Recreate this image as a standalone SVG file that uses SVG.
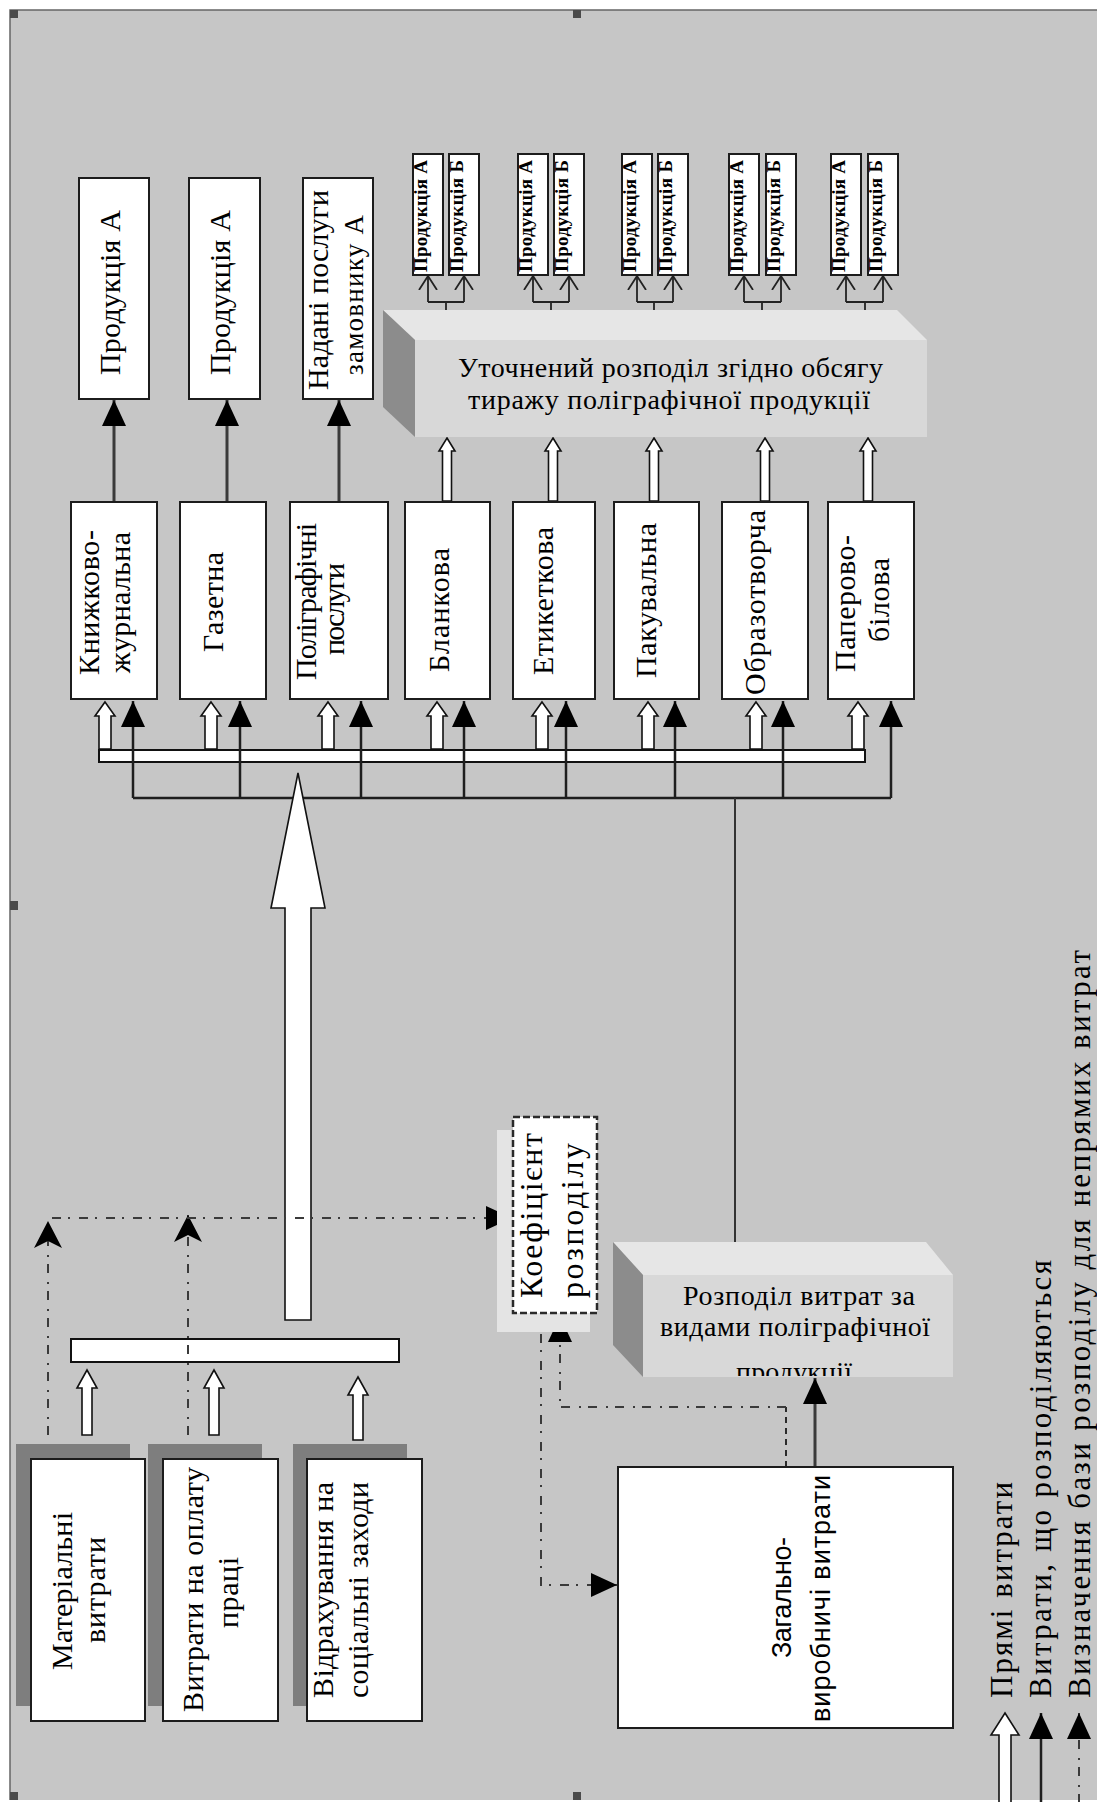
<svg xmlns="http://www.w3.org/2000/svg" width="1097" height="1802" viewBox="0 0 1097 1802">
  <style>
    .bg { fill: #c6c6c6; }
    .box { fill: #ffffff; stroke: #1c1c1c; stroke-width: 2; }
    .shadow { fill: #7e7e7e; }
    .bar { fill: #ffffff; stroke: #111; stroke-width: 2; }
    .hollow { fill: #ffffff; stroke: #111; stroke-width: 1.6; stroke-linejoin: miter; }
    .solid { fill: none; stroke: #1e1e1e; stroke-width: 2.5; }
    .solid-g { fill: none; stroke: #3a3a3a; stroke-width: 3; }
    .thin { fill: none; stroke: #333; stroke-width: 2; }
    .dashdot { fill: none; stroke: #3a3a3a; stroke-width: 2; stroke-dasharray: 9 7 2 9; }
    .dashed { fill: none; stroke: #2a2a2a; stroke-width: 2; stroke-dasharray: 6 5; }
    .fork { fill: none; stroke: #222; stroke-width: 1.8; }
    .lbl { font-family: "Liberation Serif", "Times New Roman", serif; font-size: 30px; fill: #000; }
    .lbl-s { font-family: "Liberation Serif", "Times New Roman", serif; font-size: 27px; fill: #000; }
    .lbl-k { font-family: "Liberation Serif", "Times New Roman", serif; font-size: 32px; fill: #000; }
    .tiny { font-family: "Liberation Serif", "Times New Roman", serif; font-size: 19px; font-weight: bold; fill: #000; }
    .face { font-family: "Liberation Serif", "Times New Roman", serif; font-size: 28px; fill: #000; }
    .sans { font-family: "Liberation Sans", Arial, sans-serif; font-size: 27px; fill: #000; }
    .legend { font-family: "Liberation Serif", "Times New Roman", serif; font-size: 31px; fill: #000; }
    .handle { fill: #4a4a4a; }
    .top3d { fill: #e6e6e6; }
    .front3d { fill: #d8d8d8; }
    .side3d { fill: #8c8c8c; }
  </style>
  <defs>
    <marker id="tri" viewBox="0 0 26 24" refX="26" refY="12" markerWidth="26" markerHeight="24" markerUnits="userSpaceOnUse" orient="auto">
      <path d="M0,0 L26,12 L0,24 Z" fill="#000"/>
    </marker>
    <marker id="stealth" viewBox="0 0 27 28" refX="27" refY="14" markerWidth="27" markerHeight="28" markerUnits="userSpaceOnUse" orient="auto">
      <path d="M0,0 L27,14 L0,28 L7,14 Z" fill="#000"/>
    </marker>
    <marker id="open" viewBox="0 0 15 20" refX="14" refY="10" markerWidth="15" markerHeight="20" markerUnits="userSpaceOnUse" orient="auto">
      <path d="M0,1 L14,10 L0,19" fill="none" stroke="#222" stroke-width="1.8"/>
    </marker>
    <clipPath id="clip-lower3d">
      <rect x="643" y="1275" width="310" height="101"/>
    </clipPath>
    <clipPath id="clip-p1"><rect x="414" y="155" width="28" height="119"/></clipPath>
    <clipPath id="clip-p2"><rect x="450" y="155" width="28" height="119"/></clipPath>
    <clipPath id="clip-p3"><rect x="519" y="155" width="28" height="119"/></clipPath>
    <clipPath id="clip-p4"><rect x="555" y="155" width="28" height="119"/></clipPath>
    <clipPath id="clip-p5"><rect x="623" y="155" width="28" height="119"/></clipPath>
    <clipPath id="clip-p6"><rect x="659" y="155" width="28" height="119"/></clipPath>
    <clipPath id="clip-p7"><rect x="730" y="155" width="28" height="119"/></clipPath>
    <clipPath id="clip-p8"><rect x="767" y="155" width="28" height="119"/></clipPath>
    <clipPath id="clip-p9"><rect x="832" y="155" width="28" height="119"/></clipPath>
    <clipPath id="clip-p10"><rect x="869" y="155" width="28" height="119"/></clipPath>
  </defs>

  <!-- canvas frame -->
  <rect x="0" y="0" width="1097" height="1802" fill="#ffffff"/>
  <rect class="bg" x="10" y="10" width="1087" height="1790"/>
  <path d="M10,1800 V10 H1097" fill="none" stroke="#666" stroke-width="1.5"/>
  <g id="handles">
    <rect class="handle" x="10" y="10" width="8" height="8"/>
    <rect class="handle" x="573" y="10" width="8" height="8"/>
    <rect class="handle" x="10" y="901" width="8" height="9"/>
    <rect class="handle" x="10" y="1792" width="8" height="8"/>
    <rect class="handle" x="573" y="1792" width="8" height="8"/>
  </g>

  <!-- distribution bar under the product-type blocks -->
  <rect id="bar-types" class="bar" x="99" y="750" width="766" height="12"/>
  <!-- collecting bar above the direct-cost inputs -->
  <rect id="bar-inputs" class="bar" x="71" y="1339" width="328" height="23"/>

  <!-- connectors -->
  <g id="connectors">
    <!-- bus from the overhead allocation -->
    <path class="solid" d="M133,798 H891"/>
    <path class="thin" d="M735,798 V1254"/>
    <!-- bus to each product type -->
    <path class="solid" d="M133,798 V701" marker-end="url(#tri)"/>
    <path class="solid" d="M240,798 V701" marker-end="url(#tri)"/>
    <path class="solid" d="M361,798 V701" marker-end="url(#tri)"/>
    <path class="solid" d="M464,798 V701" marker-end="url(#tri)"/>
    <path class="solid" d="M566,798 V701" marker-end="url(#tri)"/>
    <path class="solid" d="M675,798 V701" marker-end="url(#tri)"/>
    <path class="solid" d="M783,798 V701" marker-end="url(#tri)"/>
    <path class="solid" d="M891,798 V701" marker-end="url(#tri)"/>

    <!-- direct costs from the bar to each product type -->
    <polygon class="hollow" points="105,702 115,716 111,716 111,749 99,749 99,716 95,716"/>
    <polygon class="hollow" points="211,702 221,716 217,716 217,749 205,749 205,716 201,716"/>
    <polygon class="hollow" points="328,702 338,716 334,716 334,749 322,749 322,716 318,716"/>
    <polygon class="hollow" points="437,702 447,716 443,716 443,749 431,749 431,716 427,716"/>
    <polygon class="hollow" points="542,702 552,716 548,716 548,749 536,749 536,716 532,716"/>
    <polygon class="hollow" points="648,702 658,716 654,716 654,749 642,749 642,716 638,716"/>
    <polygon class="hollow" points="756,702 766,716 762,716 762,749 750,749 750,716 746,716"/>
    <polygon class="hollow" points="858,702 868,716 864,716 864,749 852,749 852,716 848,716"/>

    <!-- product types to their outputs -->
    <path class="solid-g" d="M114,502 V400" marker-end="url(#tri)"/>
    <path class="solid-g" d="M227,502 V400" marker-end="url(#tri)"/>
    <path class="solid-g" d="M339,502 V400" marker-end="url(#tri)"/>

    <!-- product types to the refined allocation -->
    <polygon class="hollow" points="447,438 455,451 451.5,451 451.5,501 442.5,501 442.5,451 439,451"/>
    <polygon class="hollow" points="553,438 561,451 557.5,451 557.5,501 548.5,501 548.5,451 545,451"/>
    <polygon class="hollow" points="654,438 662,451 658.5,451 658.5,501 649.5,501 649.5,451 646,451"/>
    <polygon class="hollow" points="765,438 773,451 769.5,451 769.5,501 760.5,501 760.5,451 757,451"/>
    <polygon class="hollow" points="868,438 876,451 872.5,451 872.5,501 863.5,501 863.5,451 860,451"/>

    <!-- forks to products A / B -->
    <path class="fork" d="M446,322 V302 M428,302 H464" />
    <path class="fork" d="M428,302 V276" marker-end="url(#open)"/>
    <path class="fork" d="M464,302 V276" marker-end="url(#open)"/>
    <path class="fork" d="M551,322 V302 M533,302 H569" />
    <path class="fork" d="M533,302 V276" marker-end="url(#open)"/>
    <path class="fork" d="M569,302 V276" marker-end="url(#open)"/>
    <path class="fork" d="M654,322 V302 M637,302 H673" />
    <path class="fork" d="M637,302 V276" marker-end="url(#open)"/>
    <path class="fork" d="M673,302 V276" marker-end="url(#open)"/>
    <path class="fork" d="M762,322 V302 M744,302 H781" />
    <path class="fork" d="M744,302 V276" marker-end="url(#open)"/>
    <path class="fork" d="M781,302 V276" marker-end="url(#open)"/>
    <path class="fork" d="M865,322 V302 M846,302 H883" />
    <path class="fork" d="M846,302 V276" marker-end="url(#open)"/>
    <path class="fork" d="M883,302 V276" marker-end="url(#open)"/>

    <!-- direct cost inputs to the collecting bar -->
    <polygon class="hollow" points="87,1370 97,1388 92,1388 92,1435 82,1435 82,1388 77,1388"/>
    <polygon class="hollow" points="214,1370 224,1388 219,1388 219,1435 209,1435 209,1388 204,1388"/>
    <polygon class="hollow" points="358,1377 368,1395 363,1395 363,1440 353,1440 353,1395 348,1395"/>

    <!-- total direct costs -->
    <polygon class="hollow" points="298,773 325,908 311,908 311,1320 285,1320 285,908 271,908"/>

    <!-- allocation base lines -->
    <path class="dashdot" d="M48,1435 V1221" marker-end="url(#stealth)"/>
    <path class="dashdot" d="M188,1435 V1215" marker-end="url(#stealth)"/>
    <path class="dashdot" d="M52,1218 H512" marker-end="url(#tri)"/>
    <path class="dashdot" d="M541,1334 V1585 H617" marker-end="url(#tri)"/>
    <path class="dashed" d="M786,1467 V1407"/>
    <path class="dashdot" d="M786,1407 H560 V1316" marker-end="url(#tri)"/>

    <!-- overhead to the allocation block -->
    <path class="solid-g" d="M815,1467 V1378" marker-end="url(#tri)"/>

    <!-- legend -->
    <polygon class="hollow" points="1005,1713 1019,1735 1011,1735 1011,1803 999,1803 999,1735 991,1735"/>
    <path class="solid" d="M1041,1803 V1713" marker-end="url(#tri)"/>
    <path class="dashdot" d="M1079,1803 V1713" marker-end="url(#tri)"/>
  </g>

  <!-- outputs -->
  <g id="out-books">
    <rect class="box" x="79" y="178" width="70" height="221"/>
    <text class="lbl" transform="translate(120,375) rotate(-90)" textLength="165" lengthAdjust="spacing">Продукція А</text>
  </g>
  <g id="out-news">
    <rect class="box" x="189" y="178" width="71" height="221"/>
    <text class="lbl" transform="translate(230,375) rotate(-90)" textLength="165" lengthAdjust="spacing">Продукція А</text>
  </g>
  <g id="out-services">
    <rect class="box" x="303" y="178" width="70" height="221"/>
    <text class="lbl" transform="translate(328,390) rotate(-90)" textLength="200" lengthAdjust="spacing">Надані послуги</text>
    <text class="lbl-s" transform="translate(363,375) rotate(-90)" textLength="160" lengthAdjust="spacing">замовнику А</text>
  </g>

  <!-- products A / B per type -->
  <g id="ab-blank">
    <rect class="box" x="413" y="154" width="30" height="121"/>
    <rect class="box" x="449" y="154" width="30" height="121"/>
    <g clip-path="url(#clip-p1)"><text class="tiny" transform="translate(427,272) rotate(-90)" textLength="112" lengthAdjust="spacing">Продукція А</text></g>
    <g clip-path="url(#clip-p2)"><text class="tiny" transform="translate(463,272) rotate(-90)" textLength="112" lengthAdjust="spacing">Продукція Б</text></g>
  </g>
  <g id="ab-label">
    <rect class="box" x="518" y="154" width="30" height="121"/>
    <rect class="box" x="554" y="154" width="30" height="121"/>
    <g clip-path="url(#clip-p3)"><text class="tiny" transform="translate(532,272) rotate(-90)" textLength="112" lengthAdjust="spacing">Продукція А</text></g>
    <g clip-path="url(#clip-p4)"><text class="tiny" transform="translate(568,272) rotate(-90)" textLength="112" lengthAdjust="spacing">Продукція Б</text></g>
  </g>
  <g id="ab-pack">
    <rect class="box" x="622" y="154" width="30" height="121"/>
    <rect class="box" x="658" y="154" width="30" height="121"/>
    <g clip-path="url(#clip-p5)"><text class="tiny" transform="translate(636,272) rotate(-90)" textLength="112" lengthAdjust="spacing">Продукція А</text></g>
    <g clip-path="url(#clip-p6)"><text class="tiny" transform="translate(672,272) rotate(-90)" textLength="112" lengthAdjust="spacing">Продукція Б</text></g>
  </g>
  <g id="ab-art">
    <rect class="box" x="729" y="154" width="30" height="121"/>
    <rect class="box" x="766" y="154" width="30" height="121"/>
    <g clip-path="url(#clip-p7)"><text class="tiny" transform="translate(743,272) rotate(-90)" textLength="112" lengthAdjust="spacing">Продукція А</text></g>
    <g clip-path="url(#clip-p8)"><text class="tiny" transform="translate(780,272) rotate(-90)" textLength="112" lengthAdjust="spacing">Продукція Б</text></g>
  </g>
  <g id="ab-paper">
    <rect class="box" x="831" y="154" width="30" height="121"/>
    <rect class="box" x="868" y="154" width="30" height="121"/>
    <g clip-path="url(#clip-p9)"><text class="tiny" transform="translate(845,272) rotate(-90)" textLength="112" lengthAdjust="spacing">Продукція А</text></g>
    <g clip-path="url(#clip-p10)"><text class="tiny" transform="translate(882,272) rotate(-90)" textLength="112" lengthAdjust="spacing">Продукція Б</text></g>
  </g>

  <!-- refined allocation block -->
  <g id="refined">
    <polygon class="top3d" points="383,310 897,310 927,340 415,340"/>
    <polygon class="side3d" points="383,310 415,340 415,437 383,407"/>
    <rect class="front3d" x="415" y="340" width="512" height="97"/>
    <text class="face" x="458" y="377" textLength="425" lengthAdjust="spacing">Уточнений розподіл згідно обсягу</text>
    <text class="face" x="468" y="409" textLength="402" lengthAdjust="spacing">тиражу поліграфічної  продукції</text>
  </g>

  <!-- product types -->
  <g id="type-books">
    <rect class="box" x="71" y="502" width="86" height="197"/>
    <text class="lbl" transform="translate(99,675) rotate(-90)" textLength="145" lengthAdjust="spacing">Книжково-</text>
    <text class="lbl" transform="translate(130,673) rotate(-90)" textLength="141" lengthAdjust="spacing">журнальна</text>
  </g>
  <g id="type-news">
    <rect class="box" x="180" y="502" width="86" height="197"/>
    <text class="lbl" transform="translate(223,652) rotate(-90)" textLength="100" lengthAdjust="spacing">Газетна</text>
  </g>
  <g id="type-services">
    <rect class="box" x="290" y="502" width="98" height="197"/>
    <text class="lbl" transform="translate(316,680) rotate(-90)" textLength="157" lengthAdjust="spacing">Поліграфічні</text>
    <text class="lbl" transform="translate(344,655) rotate(-90)" textLength="92" lengthAdjust="spacing">послуги</text>
  </g>
  <g id="type-blank">
    <rect class="box" x="405" y="502" width="85" height="197"/>
    <text class="lbl" transform="translate(449,672) rotate(-90)" textLength="124" lengthAdjust="spacing">Бланкова</text>
  </g>
  <g id="type-label">
    <rect class="box" x="513" y="502" width="82" height="197"/>
    <text class="lbl" transform="translate(553,675) rotate(-90)" textLength="148" lengthAdjust="spacing">Етикеткова</text>
  </g>
  <g id="type-pack">
    <rect class="box" x="614" y="502" width="85" height="197"/>
    <text class="lbl" transform="translate(656,678) rotate(-90)" textLength="155" lengthAdjust="spacing">Пакувальна</text>
  </g>
  <g id="type-art">
    <rect class="box" x="722" y="502" width="86" height="197"/>
    <text class="lbl" transform="translate(765,695) rotate(-90)" textLength="185" lengthAdjust="spacing">Образотворча</text>
  </g>
  <g id="type-paper">
    <rect class="box" x="828" y="502" width="86" height="197"/>
    <text class="lbl" transform="translate(855,672) rotate(-90)" textLength="137" lengthAdjust="spacing">Паперово-</text>
    <text class="lbl" transform="translate(889,642) rotate(-90)" textLength="84" lengthAdjust="spacing">білова</text>
  </g>

  <!-- allocation coefficient -->
  <g id="coef">
    <rect x="497" y="1130" width="93" height="202" fill="#e4e4e4"/>
    <rect x="513" y="1117" width="84" height="196" fill="#ffffff" stroke="#2a2a2a" stroke-width="2.5" stroke-dasharray="7 3"/>
    <text class="lbl-k" transform="translate(542,1298) rotate(-90)" textLength="165" lengthAdjust="spacing">Коефіцієнт</text>
    <text class="lbl-k" transform="translate(583,1298) rotate(-90)" textLength="155" lengthAdjust="spacing">розподілу</text>
  </g>

  <!-- allocation by product type -->
  <g id="by-type">
    <polygon class="top3d" points="613,1242 926,1242 953,1275 643,1275"/>
    <polygon class="side3d" points="613,1242 643,1275 643,1377 613,1345"/>
    <rect class="front3d" x="643" y="1275" width="310" height="102"/>
    <text class="face" x="683" y="1305" textLength="232" lengthAdjust="spacing">Розподіл витрат за</text>
    <text class="face" x="660" y="1336" textLength="270" lengthAdjust="spacing">видами поліграфічної</text>
    <text class="face" clip-path="url(#clip-lower3d)" x="736" y="1381" textLength="116" lengthAdjust="spacing">продукції</text>
  </g>

  <!-- direct cost inputs -->
  <g id="in-material">
    <rect class="shadow" x="16" y="1444" width="114" height="262"/>
    <rect class="box" x="31" y="1459" width="114" height="262"/>
    <text class="lbl" transform="translate(72,1670) rotate(-90)" textLength="158" lengthAdjust="spacing">Матеріальні</text>
    <text class="lbl" transform="translate(105,1643) rotate(-90)" textLength="106" lengthAdjust="spacing">витрати</text>
  </g>
  <g id="in-labour">
    <rect class="shadow" x="148" y="1444" width="114" height="262"/>
    <rect class="box" x="163" y="1459" width="115" height="262"/>
    <text class="lbl" transform="translate(203,1712) rotate(-90)" textLength="245" lengthAdjust="spacing">Витрати на оплату</text>
    <text class="lbl" transform="translate(238,1628) rotate(-90)" textLength="71" lengthAdjust="spacing">праці</text>
  </g>
  <g id="in-social">
    <rect class="shadow" x="293" y="1444" width="114" height="262"/>
    <rect class="box" x="307" y="1459" width="115" height="262"/>
    <text class="lbl" transform="translate(333,1698) rotate(-90)" textLength="216" lengthAdjust="spacing">Відрахування на</text>
    <text class="lbl" transform="translate(368,1698) rotate(-90)" textLength="216" lengthAdjust="spacing">соціальні заходи</text>
  </g>

  <!-- overhead costs -->
  <g id="overhead">
    <rect class="box" x="618" y="1467" width="335" height="261"/>
    <text class="sans" transform="translate(791,1658) rotate(-90)" textLength="121" lengthAdjust="spacing">Загально-</text>
    <text class="sans" transform="translate(830,1722) rotate(-90)" textLength="247" lengthAdjust="spacing">виробничі витрати</text>
  </g>

  <!-- legend -->
  <g id="legend">
    <text class="legend" transform="translate(1012,1698) rotate(-90)" textLength="216" lengthAdjust="spacing">Прямі витрати</text>
    <text class="legend" transform="translate(1051,1698) rotate(-90)" textLength="438" lengthAdjust="spacing">Витрати, що розподіляються</text>
    <text class="legend" transform="translate(1090,1698) rotate(-90)" textLength="748" lengthAdjust="spacing">Визначення бази розподілу для непрямих витрат</text>
  </g>
</svg>
